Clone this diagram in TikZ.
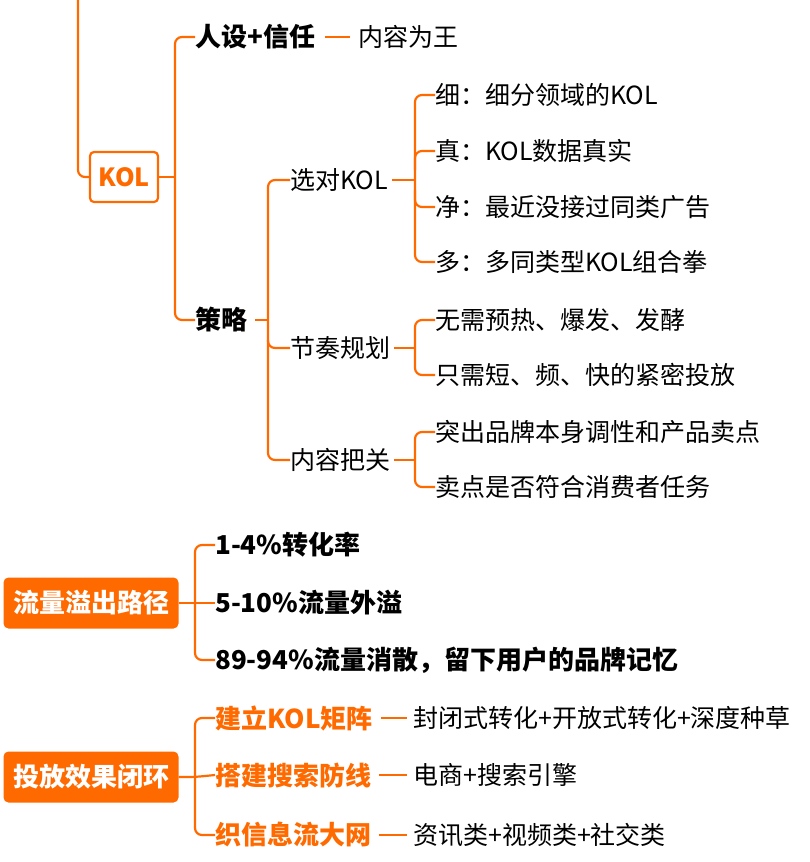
\documentclass[tikz,border=0pt]{standalone}
\usepackage{fontspec}
\setmainfont{Noto Sans CJK SC}
\begin{document}
\begin{tikzpicture}[x=1pt,y=-1pt,
  ln/.style={draw=orng,line width=2.2pt,rounded corners=7pt},
  t/.style={anchor=west,inner sep=0pt,font=\fontsize{25}{28}\selectfont},
  tb/.style={t,font=\fontsize{26}{28}\selectfont\bfseries},
  to/.style={tb,text=orng},
  box/.style={draw=orng,line width=2.2pt,rounded corners=4pt,text=orng,font=\fontsize{25}{28}\selectfont\bfseries,minimum width=68pt,minimum height=50pt,inner sep=0pt},
  fbox/.style={fill=orng,rounded corners=5pt,text=white,font=\fontsize{26}{28}\selectfont\bfseries,minimum width=175pt,minimum height=51pt,inner sep=0pt}]
\definecolor{orng}{HTML}{FF6A00}
\useasboundingbox (0,0) rectangle (810,862);
% KOL branch
\node[box] (kol) at (124,177) {KOL};
\coordinate (top) at (78,0);
\draw[ln] (top) |- (kol.west);
\node[tb] (rs) at (195,37) {人设+信任};
\node[t] (nr) at (358,37) {内容为王};
\draw[ln] ([xshift=10pt]rs.east) -- ([xshift=-8pt]nr.west);
\node[tb] (cl) at (195,320) {策略};
\draw[ln] (kol.east) -- (175,177);
\draw[ln] (rs.west) -| (175,177) |- (cl.west);
% strategies
\node[t] (xd) at (290,180) {选对KOL};
\node[t] (jz) at (290,348) {节奏规划};
\node[t] (nb) at (290,460) {内容把关};
\draw[ln] (cl.east) ++(8,0) -- (268,320);
\draw[ln] (xd.west) -| (268,320) |- (nb.west);
\draw[ln] (268,340) |- (jz.west);
\node[t] (a1) at (435,95) {细：细分领域的KOL};
\node[t] (a2) at (435,151) {真：KOL数据真实};
\node[t] (a3) at (435,207) {净：最近没接过同类广告};
\node[t] (a4) at (435,262) {多：多同类型KOL组合拳};
\draw[ln] ([xshift=4pt]xd.east) -- (415,180);
\draw[ln] (a1.west) -| (415,180) |- (a4.west);
\draw[ln] (415,170) |- (a2.west);
\draw[ln] (415,190) |- (a3.west);
\node[t] (b1) at (435,320) {无需预热、爆发、发酵};
\node[t] (b2) at (435,375) {只需短、频、快的紧密投放};
\draw[ln] ([xshift=4pt]jz.east) -- (415,348);
\draw[ln] (b1.west) -| (415,348) |- (b2.west);
\node[t] (c1) at (435,432) {突出品牌本身调性和产品卖点};
\node[t] (c2) at (435,487) {卖点是否符合消费者任务};
\draw[ln] ([xshift=4pt]nb.east) -- (415,460);
\draw[ln] (c1.west) -| (415,460) |- (c2.west);
% flow
\node[fbox] (ll) at (91,603) {流量溢出路径};
\node[tb] (d1) at (215,545) {1-4\%转化率};
\node[tb] (d2) at (215,603) {5-10\%流量外溢};
\node[tb] (d3) at (215,660) {89-94\%流量消散，留下用户的品牌记忆};
\draw[ln] (ll.east) -- (d2.west);
\draw[ln] (d1.west) -| (195,603) |- (d3.west);
% loop
\node[fbox] (tf) at (91,777) {投放效果闭环};
\node[to] (e1) at (215,718) {建立KOL矩阵};
\node[to] (e2) at (215,775) {搭建搜索防线};
\node[to] (e3) at (215,835) {织信息流大网};
\node[t] (f1) at (413,718) {封闭式转化+开放式转化+深度种草};
\node[t] (f2) at (413,775) {电商+搜索引擎};
\node[t] (f3) at (413,835) {资讯类+视频类+社交类};
\draw[ln] (tf.east) -- (195,777) -- (e2.west);
\draw[ln] (e1.west) -| (195,777) |- (e3.west);
\draw[ln] ([xshift=8pt]e1.east) -- ([xshift=-6pt]f1.west);
\draw[ln] ([xshift=8pt]e2.east) -- ([xshift=-6pt]f2.west);
\draw[ln] ([xshift=8pt]e3.east) -- ([xshift=-6pt]f3.west);
\end{tikzpicture}
\end{document}
